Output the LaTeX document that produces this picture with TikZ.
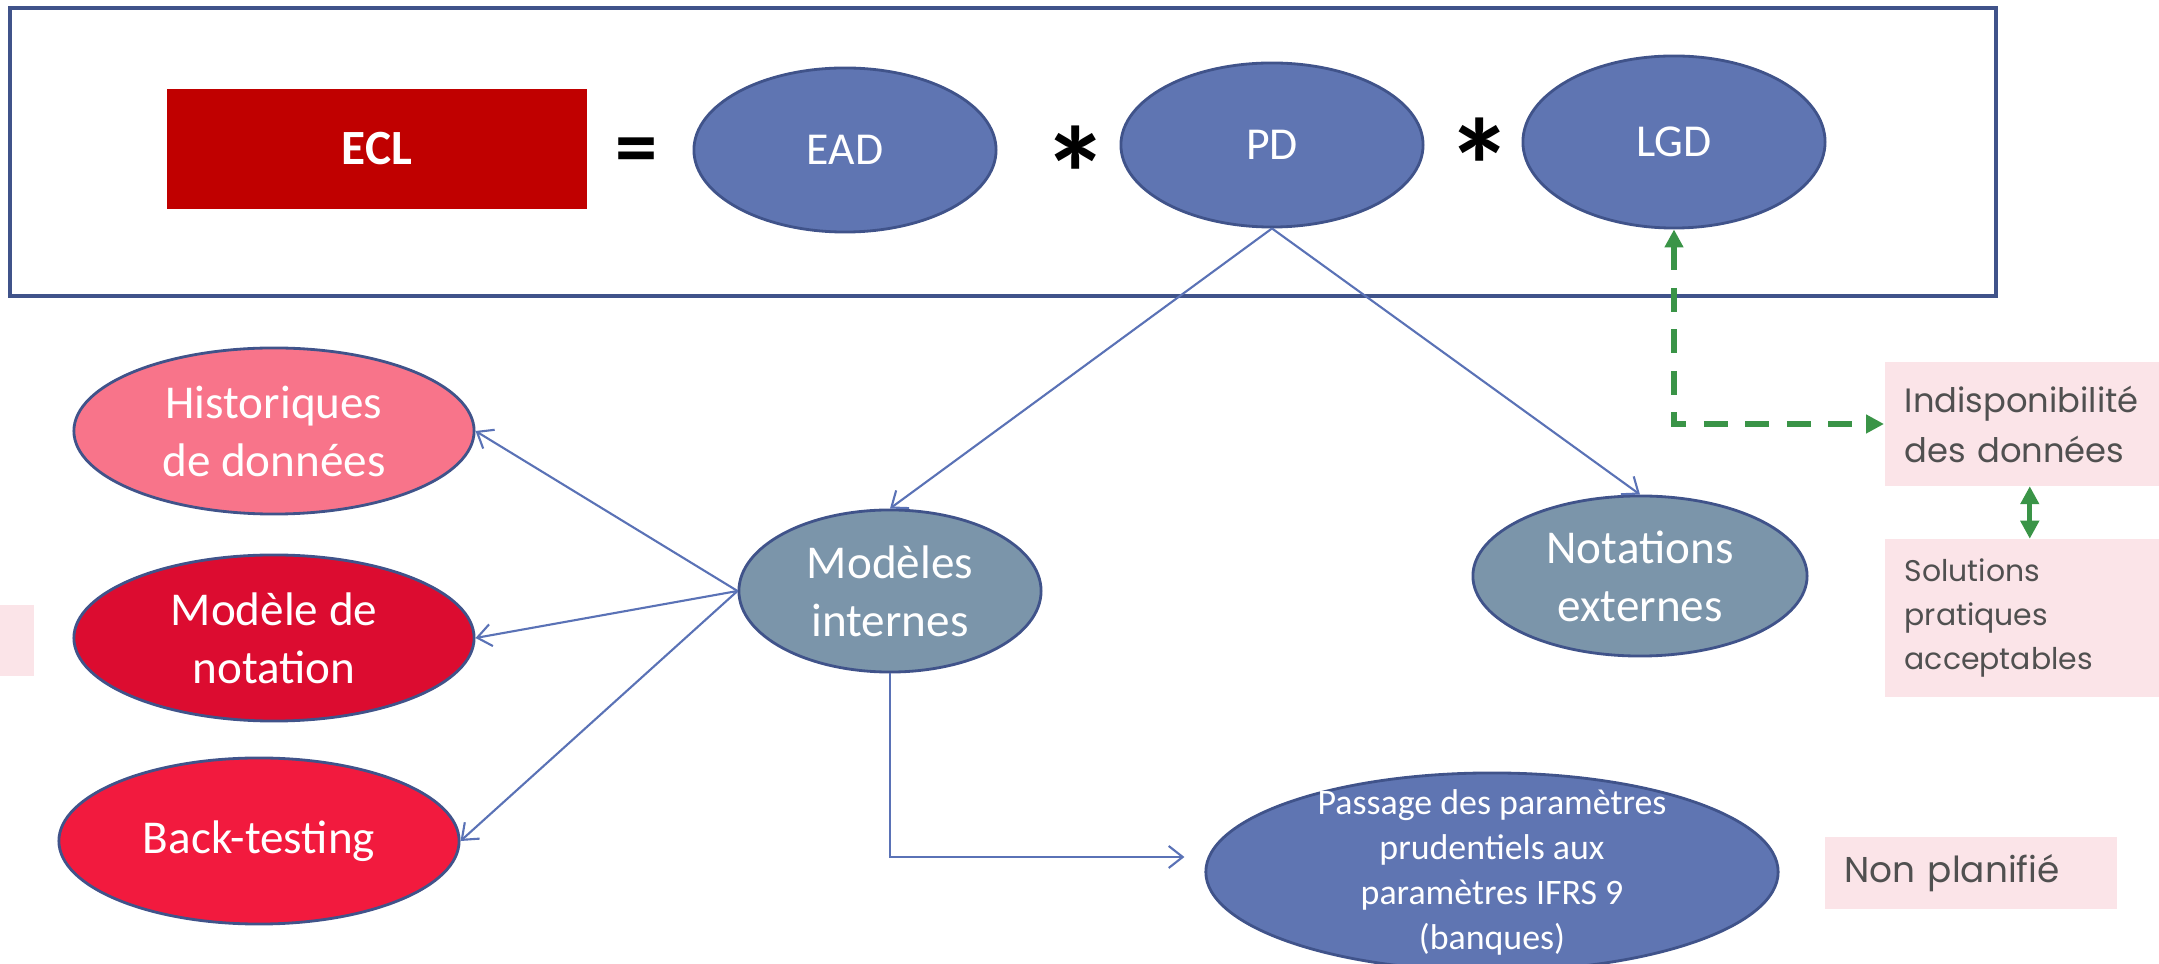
\documentclass[tikz,border=0pt]{standalone}
\usepackage{fontspec}
\setmainfont{Carlito}
\newfontfamily\gothic{Poppins}
\usetikzlibrary{shapes,arrows.meta}

\definecolor{eclred}{HTML}{C00000}
\definecolor{parblue}{HTML}{5F75B2}
\definecolor{edgeblue}{HTML}{40538A}
\definecolor{linkblue}{HTML}{5A72B6}
\definecolor{slate}{HTML}{7B95AA}
\definecolor{rose}{HTML}{F8748A}
\definecolor{crimson}{HTML}{DC0C30}
\definecolor{brightred}{HTML}{F21A3E}
\definecolor{blush}{HTML}{FBE4E8}
\definecolor{greenarrow}{HTML}{3A9447}
\definecolor{greytext}{HTML}{505050}

\begin{document}
\begin{tikzpicture}[auto, x=0.01cm, y=-0.01cm, >={Straight Barb[length=1.4mm,width=2.2mm]}]
			%define block styles
			\tikzset{
				redbox/.style={rectangle, minimum width=4.19cm, minimum height=1.19cm, inner sep=0pt, fill=eclred, text=white, font=\fontsize{14}{17}\selectfont\bfseries},
				sign/.style={inner sep=0pt, font=\fontsize{24}{28}\selectfont\bfseries},
				param/.style={ellipse, minimum width=3.02cm, minimum height=1.64cm, inner sep=0pt, draw=edgeblue, line width=0.8pt, fill=parblue, text=white, font=\fontsize{13}{16}\selectfont},
				model/.style={ellipse, inner sep=0pt, draw=edgeblue, line width=0.8pt, text=white, align=center, font=\fontsize{13.4}{16.5}\selectfont},
				source/.style={model, minimum width=4cm, minimum height=1.66cm},
				notebox/.style={rectangle, anchor=west, inner xsep=0.2cm, fill=blush, text=greytext, align=left},
				link/.style={->, draw=linkblue, line width=0.6pt},
				greenlink/.style={{Triangle[length=1.8mm,width=1.8mm]}-{Triangle[length=1.8mm,width=1.8mm]}, draw=greenarrow, line width=1.5pt},
				greendash/.style={dash pattern=on 6.8pt off 5pt},
			}
			\useasboundingbox (0,0) rectangle (2159,964);
			\draw[edgeblue, line width=1pt] (10,8) rectangle (1996,296);
			\fill[blush] (0,605) rectangle (34,676);
			%define nodes
			\node[redbox](ecl) at (377,149){ECL};
			\node[sign](equals) at (637,157){=};
			\node[param](ead) at (845,150){EAD};
			\node[sign, font=\fontsize{38}{40}\selectfont\bfseries](times1) at (1076,174){*};
			\node[param](pd) at (1272,145){PD};
			\node[sign, font=\fontsize{38}{40}\selectfont\bfseries](times2) at (1480,166){*};
			\node[param, minimum height=1.72cm](lgd) at (1674,142){LGD};
			\node[model, fill=slate, minimum width=3.02cm, minimum height=1.62cm](internal) at (890,591){Modèles\\internes};
			\node[model, fill=slate, minimum width=3.34cm, minimum height=1.6cm](external) at (1640,576){Notations\\externes};
			\node[source, fill=rose](history) at (274,431){Historiques\\de données};
			\node[source, fill=crimson](rating) at (274,638){Modèle de\\notation};
			\node[source, fill=brightred](backtest) at (259,841){Back-testing};
			\node[model, fill=parblue, minimum width=5.72cm, minimum height=1.98cm, inner sep=-0.6cm, font=\fontsize{10.2}{12.8}\selectfont](passage) at (1492,872){Passage des paramètres\\prudentiels aux\\paramètres IFRS 9\\(banques)};
			\node[notebox, minimum width=2.9cm, minimum height=1.23cm, text width=2.5cm, font=\gothic\fontsize{9.6}{14.2}\selectfont](unavail) at (1884,424){Indisponibilité\\des données};
			\node[notebox, minimum width=2.9cm, minimum height=1.57cm, text width=2.5cm, font=\gothic\fontsize{8.5}{12.5}\selectfont](solutions) at (1884,618){Solutions\\pratiques\\acceptables};
			\node[notebox, minimum width=2.92cm, minimum height=0.72cm, text width=2.52cm, font=\gothic\fontsize{10.2}{12}\selectfont](unplanned) at (1824,873){Non planifié};
			%define arrows
			\draw[link] (pd.south) -- (internal.north);
			\draw[link] (pd.south) -- (external.north);
			\draw[link] (internal.west) -- (history.east);
			\draw[link] (internal.west) -- (rating.east);
			\draw[link] (internal.west) -- (backtest.east);
			\draw[link, shorten >=0.2cm] (internal.south) |- ([yshift=0.15cm]passage.west);
			\draw[greenlink, greendash] (lgd.south) |- (unavail.west);
			\draw[greenlink] (unavail.south) -- (solutions.north);
		\end{tikzpicture}
\end{document}
